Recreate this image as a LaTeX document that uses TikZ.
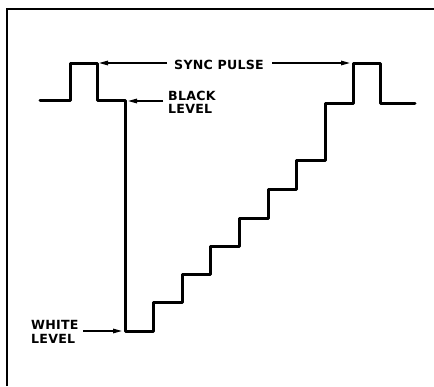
\documentclass[tikz,border=0pt]{standalone}
\usepackage{fontspec}
\setmainfont{DejaVu Sans}[LetterSpace=2]
\usetikzlibrary{arrows.meta}
\begin{document}
\begin{tikzpicture}[x=1pt,y=-1pt,
  wave/.style={line width=3pt,line join=round,line cap=round},
  frame/.style={line width=1.5pt},
  pointer/.style={line width=1.4pt,-{Triangle[length=9pt,width=4.5pt]}},
  lbl/.style={font=\bfseries\fontsize{12.6}{13.5}\selectfont,inner sep=0pt,align=left}]
\useasboundingbox (0,0) rectangle (434,386);
% frame (top and left edges)
\draw[frame] (7,386) -- (7,9) -- (434,9);
% waveform
\coordinate (syncL) at (97,63);
\coordinate (black) at (125,100);
\coordinate (white) at (125,331);
\coordinate (syncR) at (353,63);
\draw[wave] (40,100) -- (70,100) -- (70,63) -- (97,63) -- (97,100) -- (125,100)
  -- (125,331) -- (153,331) -- (153,302.5) -- (182,302.5) -- (182,274)
  -- (210,274) -- (210,246.5) -- (239,246.5) -- (239,218) -- (268,218)
  -- (268,189) -- (296,189) -- (296,160) -- (325,160) -- (325,103)
  -- (353,103) -- (353,63) -- (380,63) -- (380,103) -- (415,103);
\draw[line width=2.4pt] (black) -- (white);
% labels
\node[lbl,anchor=center] (sync) at (219,64.5) {SYNC PULSE};
\node[lbl,anchor=west] (blk) at (168,102.5) {BLACK\\LEVEL};
\node[lbl,anchor=west] (wht) at (31,332) {WHITE\\LEVEL};
% pointers
\coordinate (syncLtip) at (99,63);
\coordinate (syncRtip) at (350,63);
\coordinate (blkTip) at (128,101);
\coordinate (whtTip) at (122,331);
\coordinate (syncLs) at (167,63);
\coordinate (syncRs) at (272,63);
\coordinate (blkS) at (163,101);
\coordinate (whtS) at (83,331);
\draw[pointer] (syncLs) -- (syncLtip);
\draw[pointer] (syncRs) -- (syncRtip);
\draw[pointer] (blkS) -- (blkTip);
\draw[pointer] (whtS) -- (whtTip);
\end{tikzpicture}
\end{document}
